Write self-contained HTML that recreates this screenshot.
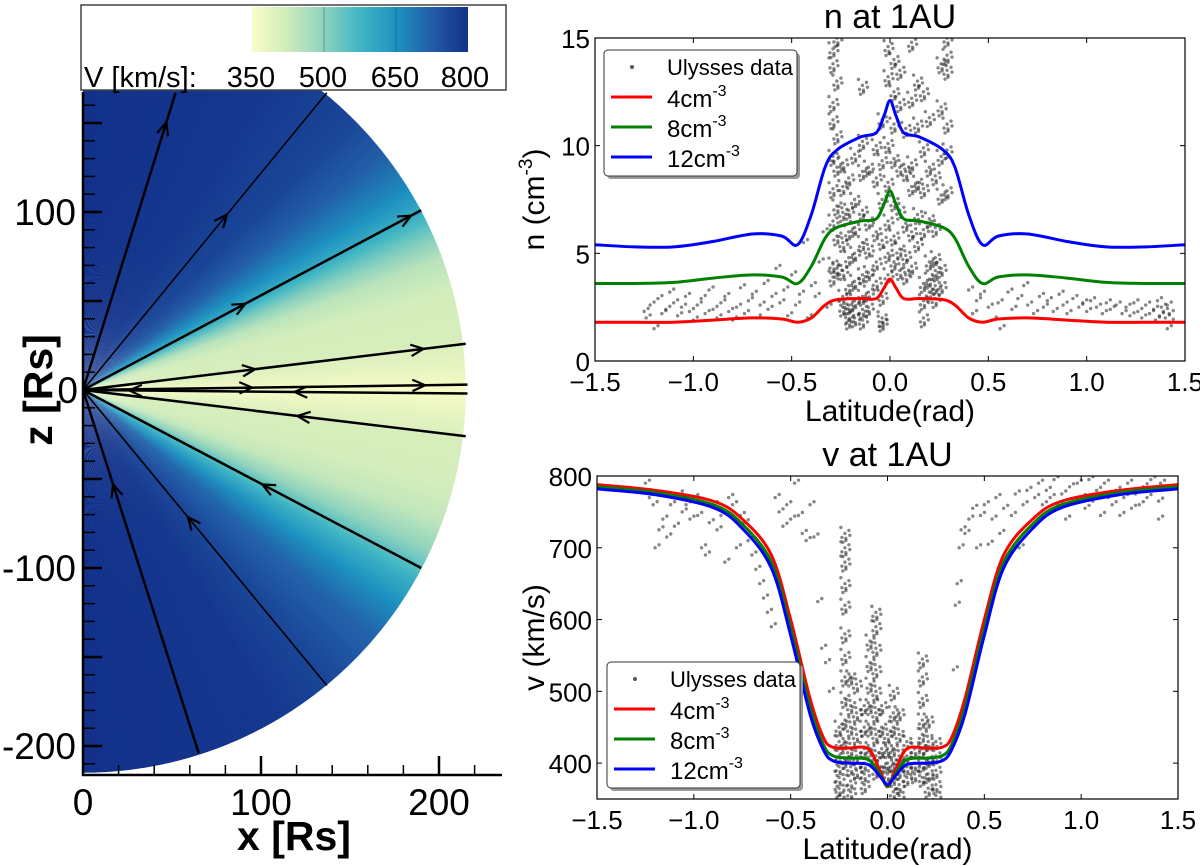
<!DOCTYPE html>
<html><head><meta charset="utf-8"><style>
html,body{margin:0;padding:0;background:#fff;}
svg{display:block;}
text{font-family:"Liberation Sans",sans-serif;}
.tk{font-family:"Liberation Sans",sans-serif;font-size:26px;}
.lg{font-family:"Liberation Sans",sans-serif;font-size:22px;}
</style></head><body>
<svg id="fig" width="1200" height="866" viewBox="0 0 1200 866" xmlns="http://www.w3.org/2000/svg">
<defs>
<clipPath id="fieldClip"><rect x="83" y="90" width="430" height="690"/></clipPath>
<clipPath id="nClip"><rect x="595" y="38" width="590" height="323"/></clipPath>
<clipPath id="vClip"><rect x="597" y="476" width="581" height="323"/></clipPath>
<linearGradient id="cbGrad" x1="0" x2="1" y1="0" y2="0">
<stop offset="0" stop-color="#fafcc8"/><stop offset="0.15" stop-color="#d3edbb"/><stop offset="0.33" stop-color="#8fd3bd"/><stop offset="0.5" stop-color="#41b6c4"/><stop offset="0.67" stop-color="#1d91c0"/><stop offset="0.83" stop-color="#225ea8"/><stop offset="1" stop-color="#13318a"/>
</linearGradient>
</defs>
<g id="left">
<g id="field" clip-path="url(#fieldClip)"></g>
<g id="streams" clip-path="url(#fieldClip)"></g>
<g id="laxes"></g>
<g>
<rect x="81" y="5" width="425" height="85" fill="#fff" stroke="#444" stroke-width="1.5"/>
<rect x="252" y="7" width="216" height="45" fill="url(#cbGrad)"/>
<line x1="324" y1="7" x2="324" y2="52" stroke="#5a9a90" stroke-width="1"/>
<line x1="396" y1="7" x2="396" y2="52" stroke="#1a6f9a" stroke-width="1"/>
<text x="84" y="87" font-size="29">V [km/s]:</text>
<text x="251" y="87" font-size="29" text-anchor="middle">350</text>
<text x="323" y="87" font-size="29" text-anchor="middle">500</text>
<text x="395" y="87" font-size="29" text-anchor="middle">650</text>
<text x="465" y="87" font-size="29" text-anchor="middle">800</text>
</g>
<text x="294" y="850" font-size="41" font-weight="bold" text-anchor="middle">x [Rs]</text>
<text transform="translate(52,390) rotate(-90)" font-size="41" font-weight="bold" text-anchor="middle">z [Rs]</text>
</g>
<g id="nplot"></g>
<g id="vplot"></g>
</svg>
<script>
// ---------- field data ----------
const fieldAngles = [90,60,45,38,32,28,24,20,15,8,3,0,-3,-8,-15,-20,-25,-30,-35,-40,-50,-60,-90];
const fieldSpeeds = [800,790,765,725,660,600,520,450,420,415,380,355,380,415,420,440,500,590,660,715,765,790,800];
const streamEndX = [52,137,190,215,216,216,215,190,137,65];
const streamEndZ = [167,167,101,26,3,-2,-26,-100,-166,-204];
const streamArrowFrac = [[0.9],[0.59],[0.48,0.97],[0.45,0.89],[0.44,0.89],[0.55,0.12],[0.56],[0.53],[0.43],[0.26]];
const streamDir = [1,1,1,1,1,-1,-1,-1,-1,-1];
const streamWidth = [2.5,1.5,2.5,2.5,2.5,2.5,2.5,2.5,1.6,2.5];
const zTicksMajor = [-200,-150,-100,-50,0,50,100,150];
const zTickLabels = [-200,-100,0,100];
const xTickLabels = [0,100,200];

// ---------- n plot data ----------
const curveLatN = [-1.5,-1.3,-1.1,-0.9,-0.7,-0.55,-0.47,-0.4,-0.33,-0.27,-0.15,-0.07,-0.03,0,0.03,0.07,0.15,0.27,0.33,0.4,0.47,0.55,0.7,0.9,1.1,1.3,1.5];
const nRed   = [1.8,1.8,1.8,1.9,2.0,1.95,1.8,2.0,2.6,2.85,2.9,2.9,3.4,3.8,3.4,2.9,2.9,2.85,2.6,2.0,1.8,1.95,2.0,1.9,1.8,1.8,1.8];
const nGreen = [3.6,3.6,3.65,3.85,4.0,3.9,3.6,4.4,5.7,6.2,6.5,6.6,7.3,7.9,7.3,6.6,6.5,6.2,5.7,4.4,3.6,3.9,4.0,3.85,3.65,3.6,3.6];
const nBlue  = [5.4,5.3,5.3,5.55,5.9,5.8,5.4,6.8,9.0,9.8,10.4,10.6,11.4,12.1,11.4,10.6,10.4,9.8,9.0,6.8,5.4,5.8,5.9,5.55,5.3,5.3,5.4];
const nScatLat = [-1.25,-1.24,-1.22,-1.2,-1.18,-1.16,-1.14,-1.12,-1.1,-1.08,-1.06,-1.04,-1.02,-1.0,-0.98,-0.96,-0.94,-0.92,-0.9,-0.88,-0.86,-0.84,-0.82,-0.8,-0.78,-0.76,-0.74,-0.72,-0.7,-0.68,-0.66,-0.64,-0.62,-0.6,-0.58,-0.56,-0.54,-0.52,-0.5,-0.48,-0.46,-0.44,-0.42,-0.4,-0.38,-0.36,-0.34,-0.32,
0.4,0.42,0.44,0.46,0.5,0.52,0.55,0.56,0.6,0.62,0.65,0.68,0.7,0.73,0.76,0.78,0.8,0.83,0.86,0.88,0.9,0.93,0.96,0.98,1.0,1.02,1.05,1.08,1.1,1.12,1.15,1.18,1.2,1.22,1.24,1.26,1.28,1.3,1.32,1.34,1.35,1.36,1.37,1.38,1.39,1.4,1.41,1.42,1.42,1.41];
const nScatVal = [2.3,2.0,2.6,1.5,2.9,2.2,2.4,3.2,2.7,2.1,2.5,3.0,2.3,1.9,2.6,2.9,2.2,3.3,2.4,2.0,2.7,3.0,2.3,1.9,2.5,3.4,2.2,2.8,3.1,2.0,2.6,3.6,2.4,3.0,4.3,2.7,3.3,2.1,4.0,2.6,3.1,5.5,2.0,3.5,3.0,4.6,6.0,2.5,
3.3,2.2,2.8,3.1,2.5,1.9,2.7,1.5,3.2,2.4,2.9,3.5,2.6,2.2,3.0,2.5,2.8,2.3,3.1,2.6,2.2,2.9,2.5,2.7,2.3,2.8,2.5,2.2,2.7,2.4,2.6,2.2,2.5,2.1,2.7,2.3,2.0,2.6,2.2,2.4,1.9,2.8,2.1,2.5,2.3,2.0,2.6,2.2,1.8,1.5];
const nStreakLat = [-0.29,-0.27,-0.24,-0.21,-0.18,-0.14,-0.11,-0.07,-0.04,-0.01,0.02,0.05,0.08,0.11,0.14,0.17,0.2,0.23,0.26,0.29];
const nStreakVals = [[14.5,13.8,12.0,11.2,9.5,8.0,6.5,4.5,3.9],[15,13,10.5,9.0,7.2,5.8,4.3],[9.2,8.1,6.9,5.5,4.2,3.0,2.5],[8.5,7.0,6.0,4.8,3.5,2.6,2.2,1.9],[9.6,7.5,6.2,5.0,3.7,2.8,2.0],[12.8,10.2,8.8,7.0,5.5,4.0,3.0,2.4,1.9],[9.0,6.5,5.2,4.1,3.2,2.5],[10.0,8.5,6.0,4.6,3.7],[11.2,9.3,7.5,5.6,3.0,2.0,1.8],[14.6,13.2,10.1,8.3,6.5,5.0,4.0],[14.0,12.5,11.0,9.4,7.4,5.8,4.6],[13.5,12.0,9.0,7.0,5.2,4.2],[10.8,8.8,6.4,4.9,4.0],[14.8,12.2,9.2,8.1,6.0,4.4],[13.0,11.0,8.3,6.8,5.5],[12.5,9.9,8.0,6.1,3.6,2.8,2.0],[11.3,9.0,6.6,4.6,3.8,3.2],[8.6,6.2,4.8,4.2,3.5,2.9],[13.8,11.8,9.5,7.7,4.3,3.5],[15,14.2,13.5,11.0,9.8,7.9]];
const nYTicks = [0,5,10,15];
const latTicks = [-1.5,-1.0,-0.5,0.0,0.5,1.0,1.5];

// ---------- v plot data ----------
const curveLatV = [-1.5,-1.2,-0.9,-0.75,-0.6,-0.5,-0.4,-0.33,-0.28,-0.2,-0.1,-0.04,0,0.04,0.1,0.2,0.28,0.33,0.4,0.5,0.6,0.75,0.9,1.2,1.5];
const vRed   = [788,780,765,740,690,600,490,435,422,421,420,390,367,390,420,421,422,435,490,600,690,740,765,780,788];
const vGreen = [785,777,760,733,680,588,478,425,410,407,405,385,368,385,405,407,410,425,478,588,680,733,760,777,785];
const vBlue  = [782,774,756,727,672,578,468,418,403,400,398,382,370,382,398,400,403,418,468,578,672,727,756,774,782];
const vScatLat = [-1.25,-1.23,-1.21,-1.2,-1.18,-1.16,-1.14,-1.12,-1.1,-1.08,-1.06,-1.04,-1.02,-1.0,-0.98,-0.96,-0.94,-0.92,-0.9,-0.88,-0.86,-0.84,-0.82,-0.8,-0.78,-0.76,-0.74,-0.72,-0.7,-0.68,-0.66,-0.64,-0.62,-0.6,-0.58,-0.56,-0.54,-0.52,-0.5,-0.48,-0.46,-0.44,-0.42,-0.4,-0.38,-0.36,-0.34,-0.32,-0.3,
0.34,0.35,0.36,0.37,0.38,0.4,0.42,0.44,0.46,0.48,0.5,0.52,0.54,0.56,0.58,0.6,0.62,0.64,0.66,0.68,0.7,0.72,0.74,0.76,0.78,0.8,0.82,0.84,0.86,0.88,0.9,0.92,0.94,0.96,0.98,1.0,1.02,1.04,1.06,1.08,1.1,1.12,1.14,1.16,1.18,1.2,1.22,1.24,1.26,1.28,1.3,1.32,1.34,1.36,1.38,1.4,1.4,1.41];
const vScatVal = [790,770,760,700,725,740,715,760,730,775,750,760,740,770,745,700,690,735,760,725,745,680,770,760,700,745,735,710,690,670,650,630,610,590,770,750,730,760,740,790,745,720,710,760,715,625,560,540,500,
530,620,650,700,725,720,740,755,700,745,760,705,740,770,720,755,690,745,775,700,760,780,730,770,790,760,780,770,795,760,775,740,785,765,790,770,755,795,765,780,745,790,770,760,780,745,770,790,755,775,760,785,770,795,780,765,740,790];
const vStreakLat = [-0.25,-0.22,-0.19,-0.16,-0.12,-0.09,-0.06,-0.03,0.0,0.03,0.06,0.1,0.14,0.18,0.21,0.25];
const vStreakVals = [[450,430,410,395,380,365,355],[720,700,680,650,620,580,550,520,490,460,430,405],[520,480,450,420,395,375,360],[510,470,440,410,390],[480,450,420,400,385,370],[570,540,510,480,450,420],[610,590,560,530,500,470,440,410,390],[480,450,420,395],[440,420,400,385],[500,470,450,420,400,380,360],[470,440,410,390,370,355],[430,410,395,380],[420,400,385],[545,520,490,460,440,420,400,380],[460,430,405,385,365],[430,410,390,370,355]];
const vYTicks = [400,500,600,700,800];

const NS='http://www.w3.org/2000/svg';
function mk(tag,attrs,parent){const e=document.createElementNS(NS,tag);for(const k in attrs)e.setAttribute(k,attrs[k]);parent.appendChild(e);return e;}
function interp(xs,ys,x){for(let i=0;i<xs.length-1;i++){const a=xs[i],b=xs[i+1];if((x<=a&&x>=b)||(x>=a&&x<=b)){const t=(x-a)/(b-a||1);return ys[i]+t*(ys[i+1]-ys[i]);}}return ys[ys.length-1];}
const cmapV=[350,420,500,575,650,725,800];
const cmapC=[[250,252,200],[211,237,187],[143,211,189],[65,182,196],[29,145,192],[34,94,168],[19,49,138]];
function vcol(v){let i=0;while(i<cmapV.length-2&&v>cmapV[i+1])i++;const t=Math.max(0,Math.min(1,(v-cmapV[i])/(cmapV[i+1]-cmapV[i])));const c=cmapC[i].map((c0,k)=>Math.round(c0+t*(cmapC[i+1][k]-c0)));return 'rgb('+c.join(',')+')';}

// ---------- left panel ----------
const X=x=>83+1.78*x, Z=z=>390-1.78*z, R=215*1.78;
const field=document.getElementById('field');
for(let a=-90;a<90;a+=0.5){
  const a1=a*Math.PI/180,a2=(a+0.6)*Math.PI/180;
  const v=interp(fieldAngles,fieldSpeeds,a+0.25);
  const p=mk('path',{d:`M83,390 L${83+R*Math.cos(a1)},${390-R*Math.sin(a1)} A${R},${R} 0 0 0 ${83+R*Math.cos(a2)},${390-R*Math.sin(a2)} Z`,fill:vcol(v)},field);
  
  
}
const streams=document.getElementById('streams');
streamEndX.forEach((ex,i)=>{
  const x2=X(ex),y2=Z(streamEndZ[i]);
  const l=mk('line',{x1:83,y1:390,x2:x2,y2:y2,stroke:'#000','stroke-width':streamWidth[i]},streams);
  
  
  const dx=x2-83,dy=y2-390,L=Math.hypot(dx,dy),ux=dx/L*streamDir[i],uy=dy/L*streamDir[i];
  streamArrowFrac[i].forEach(f=>{
    const px=83+dx*f,py=390+dy*f,s=14,ang=0.42;
    const c=Math.cos(ang),sn=Math.sin(ang);
    const b1x=-(ux*c-uy*sn)*s,b1y=-(ux*sn+uy*c)*s,b2x=-(ux*c+uy*sn)*s,b2y=-(-ux*sn+uy*c)*s;
    const ar=mk('path',{d:`M${px+b1x},${py+b1y} L${px},${py} L${px+b2x},${py+b2y}`,fill:'none',stroke:'#000','stroke-width':2.2},streams);
    
    
  });
});
const la=document.getElementById('laxes');
mk('line',{x1:83,y1:92,x2:83,y2:776,stroke:'#000','stroke-width':2.5},la);
mk('line',{x1:82,y1:775,x2:502,y2:775,stroke:'#000','stroke-width':2.5},la);
for(let z=-210;z<=160;z+=10){const y=Z(z);if(y<92||y>775)continue;const maj=zTicksMajor.includes(z);const t=mk('line',{x1:83,y1:y,x2:83+(maj?19:12),y2:y,stroke:'#000','stroke-width':maj?2.5:1.5},la);}
zTickLabels.forEach(z=>{const t=mk('text',{x:z===0?78:76,y:Z(z)+13,'font-size':37,'text-anchor':'end'},la);t.textContent=(z<0?'-':'')+Math.abs(z);});
for(let x=20;x<=230;x+=20){const maj=(x%100===0);const t=mk('line',{x1:X(x),y1:775,x2:X(x),y2:775-(maj?19:10),stroke:'#000','stroke-width':maj?2.5:1.5},la);}
xTickLabels.forEach(x=>{const t=mk('text',{x:X(x),y:815,'font-size':37,'text-anchor':'middle'},la);t.textContent=x;});

// ---------- line charts ----------
function smooth(pts){let d=`M${pts[0][0]},${pts[0][1]}`;for(let i=0;i<pts.length-1;i++){const p0=pts[Math.max(0,i-1)],p1=pts[i],p2=pts[i+1],p3=pts[Math.min(pts.length-1,i+2)];const c1=[p1[0]+(p2[0]-p0[0])/6,p1[1]+(p2[1]-p0[1])/6],c2=[p2[0]-(p3[0]-p1[0])/6,p2[1]-(p3[1]-p1[1])/6];d+=` C${c1[0]},${c1[1]} ${c2[0]},${c2[1]} ${p2[0]},${p2[1]}`;}return d;}
const jit=[[0,0],[4,-3],[-3,4],[1,7],[-4,-6]];
function panel(g,cfg){
  const {x0,x1,y0,y1,ymin,ymax,yticks,title,ylabel,clip}=cfg;
  const xs=l=>x0+(l+1.5)/3*(x1-x0), ys=v=>y1-(v-ymin)/(ymax-ymin)*(y1-y0);
  const tt=mk('text',{x:(x0+x1)/2,y:y0-10,'font-size':34,'text-anchor':'middle'},g);tt.textContent=title;
  const data=mk('g',{'clip-path':`url(#${clip})`},g);
  const dot=(l,v,n)=>{for(let k=0;k<n;k++){const c=mk('circle',{cx:xs(l)+jit[k][0],cy:ys(v)+jit[k][1],r:1.7,fill:'#222','fill-opacity':0.55},data);}};
  cfg.scatLat.forEach((l,i)=>dot(l,cfg.scatVal[i],2));
  cfg.streakLat.forEach((l,i)=>cfg.streakVals[i].forEach((v,j)=>{dot(l,v,5);dot(l+0.005,v-(ymax-ymin)*0.015,3);}));
  const cols=['#ff0000','#008000','#0000ff'],names=['series-4cm','series-8cm','series-12cm'];
  cfg.series.forEach((s,k)=>{const p=mk('path',{d:smooth(cfg.curveLat.map((l,i)=>[xs(l),ys(s[i])])),fill:'none',stroke:cols[k],'stroke-width':3},data);});
  const fr=mk('rect',{x:x0,y:y0,width:x1-x0,height:y1-y0,fill:'none',stroke:'#000','stroke-width':1.2},g);
  yticks.forEach(v=>{const y=ys(v);mk('line',{x1:x0,y1:y,x2:x0+5,y2:y,stroke:'#000'},g);mk('line',{x1:x1,y1:y,x2:x1-5,y2:y,stroke:'#000'},g);const t=mk('text',{x:x0-5,y:y+10,'text-anchor':'end',class:'tk'},g);t.textContent=v;});
  latTicks.forEach(l=>{const x=xs(l);mk('line',{x1:x,y1:y1,x2:x,y2:y1-5,stroke:'#000'},g);mk('line',{x1:x,y1:y0,x2:x,y2:y0+5,stroke:'#000'},g);const t=mk('text',{x:x,y:y1+30,'text-anchor':'middle',class:'tk'},g);t.textContent=(l<0?'\u2212':'')+Math.abs(l).toFixed(1);});
  const xl=mk('text',{x:(x0+x1)/2,y:y1+60,'font-size':30,'text-anchor':'middle'},g);xl.textContent='Latitude(rad)';
  const yl=mk('text',{transform:`translate(544,${(y0+y1)/2}) rotate(-90)`,'font-size':30,'text-anchor':'middle'},g);yl.innerHTML=ylabel;
  // legend
  const lg=mk('g',{},g);
  const [lx,ly]=cfg.legend;
  mk('rect',{x:lx+3,y:ly+3,width:193,height:126,rx:4,fill:'#999'},lg);
  mk('rect',{x:lx,y:ly,width:193,height:126,rx:4,fill:'#fff',stroke:'#333','stroke-width':1},lg);
  mk('circle',{cx:lx+28,cy:ly+17,r:2,fill:'#555'},lg);
  const e0=mk('text',{x:lx+63,y:ly+25,class:'lg'},lg);e0.textContent='Ulysses data';
  ['4','8','12'].forEach((n,k)=>{const y=ly+47+k*30;mk('line',{x1:lx+7,y1:y,x2:lx+48,y2:y,stroke:cols[k],'stroke-width':3},lg);const t=mk('text',{x:lx+63,y:y+10,class:'lg',style:'font-size:24px'},lg);t.innerHTML=n+'cm<tspan dy="-11" font-size="16">-3</tspan>';});
}
panel(document.getElementById('nplot'),{x0:595,x1:1185,y0:38,y1:361,ymin:0,ymax:15,yticks:nYTicks,title:'n at 1AU',ylabel:'n  (cm<tspan dy="-12" font-size="19">-3</tspan><tspan dy="12">)</tspan>',clip:'nClip',scatLat:nScatLat,scatVal:nScatVal,streakLat:nStreakLat,streakVals:nStreakVals,curveLat:curveLatN,series:[nRed,nGreen,nBlue],legend:[604,50]});
panel(document.getElementById('vplot'),{x0:597,x1:1178,y0:476,y1:799,ymin:350,ymax:800,yticks:vYTicks,title:'v at 1AU',ylabel:'v  (km/s)',clip:'vClip',scatLat:vScatLat,scatVal:vScatVal,streakLat:vStreakLat,streakVals:vStreakVals,curveLat:curveLatV,series:[vRed,vGreen,vBlue],legend:[607,662]});
</script>
</body></html>
